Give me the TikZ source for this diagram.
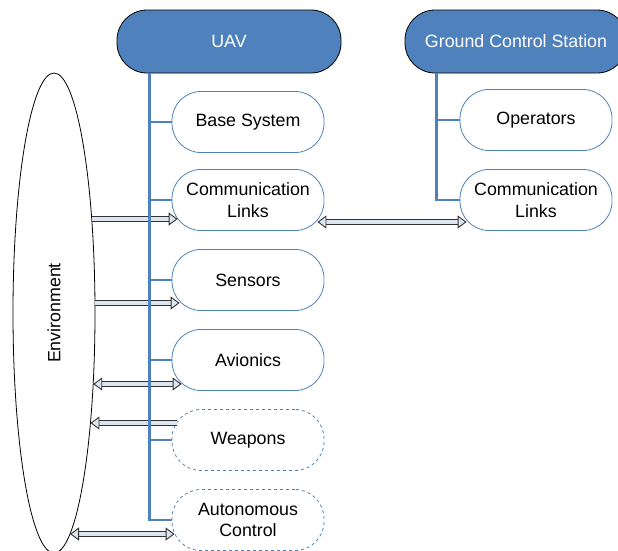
\documentclass[tikz,border=0pt]{standalone}
\usepackage{fontspec}
\setmainfont{Liberation Sans}
\usetikzlibrary{arrows.meta,shapes.geometric}
\definecolor{uavblue}{RGB}{79,129,189}
\definecolor{arrowfill}{RGB}{220,230,242}
\definecolor{arrowline}{RGB}{50,50,50}

\begin{document}
\begin{tikzpicture}[x=1pt,y=-1pt,
        every node/.style={font=\fontsize{17.8pt}{21.5pt}\selectfont},
        topbox/.style={draw=black,line width=0.8pt,fill=uavblue,text=white,rounded corners=30pt,minimum height=63pt,inner sep=0pt},
        partbox/.style={draw=uavblue,line width=0.8pt,rounded corners=29pt,minimum width=152pt,minimum height=61pt,align=center,inner sep=0pt},
        optbox/.style={partbox,dashed},
        tree/.style={uavblue,line width=2.6pt},
        link/.style={arrowline,line width=0.9pt,double=arrowfill,double distance=4pt},
        >={Triangle[length=9pt,width=13pt,fill=arrowfill]}]
    \useasboundingbox[clip] (0,0) rectangle (618,550);

    % top level blocks
    \node[topbox,minimum width=224pt] (uav) at (229,41.5) {UAV};
    \node[topbox,minimum width=222pt] (gcs) at (516,41.5) {Ground Control Station};

    % UAV parts
    \node[partbox] (base) at (248,122) {Base System};
    \node[partbox] (ucom) at (248,200) {Communication\\Links};
    \node[partbox] (sens) at (248,280) {Sensors};
    \node[partbox] (avio) at (248,360) {Avionics};
    \node[optbox]  (weap) at (248,440) {Weapons};
    \node[optbox]  (auto) at (248,520) {Autonomous\\Control};

    % ground station parts
    \node[partbox] (oper) at (536,120) {Operators};
    \node[partbox] (gcom) at (536,200) {Communication\\Links};

    % environment
    \node[draw,ellipse,rotate=90,minimum width=480pt,minimum height=82pt,line width=0.8pt,inner sep=0pt] (env) at (54,313) {Environment};
    \coordinate (e1) at (91.7,219);
    \coordinate (e3) at (95,303);
    \coordinate (e4) at (93.2,384);
    \coordinate (e5) at (90.4,423);
    \coordinate (e6) at (70,534);

    % exchanges
    \draw[link,->]  (e1) -- ([xshift=6pt,yshift=-19pt]ucom.west);
    \draw[link,<->] ([xshift=-7pt,yshift=-22pt]ucom.east) -- ([xshift=7pt,yshift=-22pt]gcom.west);
    \draw[link,->]  (e3) -- ([xshift=8pt,yshift=-23pt]sens.west);
    \draw[link,<->] (e4) -- ([xshift=10pt,yshift=-24pt]avio.west);
    \draw[link,->]  ([xshift=5pt,yshift=17pt]weap.west) -- (e5);
    \draw[link,<->] (e6) -- ([xshift=3pt,yshift=-14pt]auto.west);

    % hierarchy lines
    \coordinate (uavroot) at ([xshift=33pt]uav.south west);
    \coordinate (gcsroot) at ([xshift=32pt]gcs.south west);
    \foreach \n in {base,ucom,sens,avio,weap,auto} {\draw[tree] (uavroot) |- (\n.west);}
    \foreach \n in {oper,gcom} {\draw[tree] (gcsroot) |- (\n.west);}
\end{tikzpicture}
\end{document}
